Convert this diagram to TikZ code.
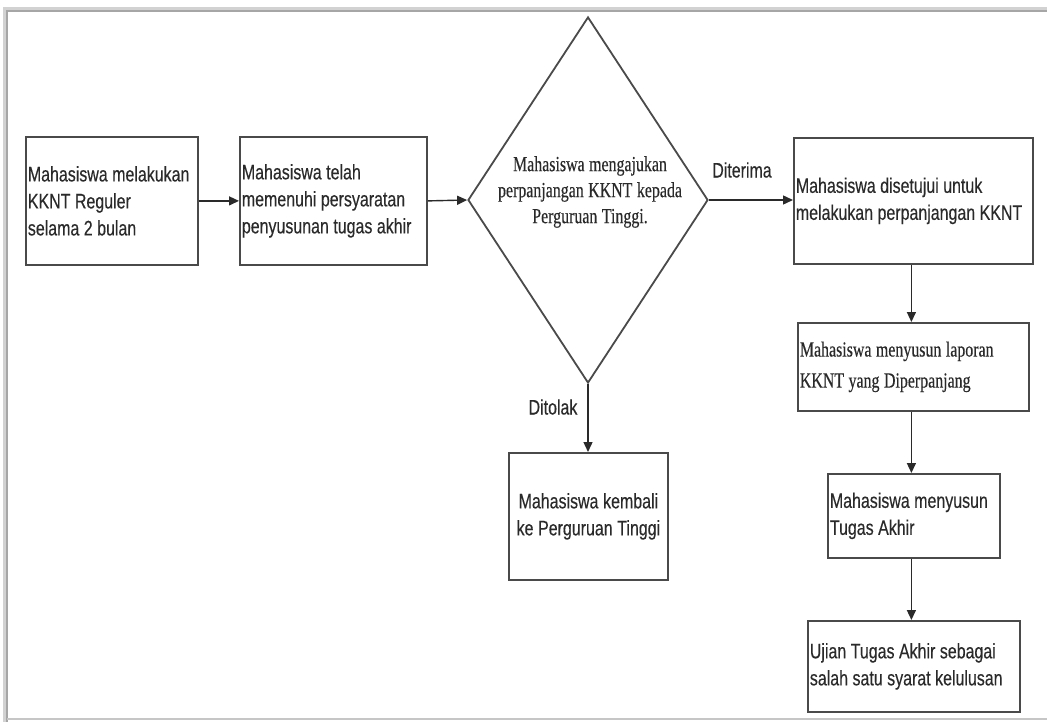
\documentclass[tikz,border=0pt]{standalone}
\usepackage{fontspec}
\usetikzlibrary{shapes.geometric,arrows.meta}
\newfontfamily\flowsans[FakeStretch=0.76,FakeBold=0.3]{Liberation Sans}
\newfontfamily\flowserif[FakeStretch=0.74,FakeBold=0.3]{Liberation Serif}
\definecolor{ink}{HTML}{2A2A2A}
\definecolor{edge}{HTML}{4A4A4A}
\newcommand\tightspace{\spaceskip=4.5pt plus 1pt minus 1pt\relax}
\tikzset{
  x=1pt, y=-1pt,
  proc/.style={draw=edge, line width=1.8pt, rectangle, inner sep=2pt, anchor=north west,
               align=left, text=ink, font=\flowsans\fontsize{21}{27}\selectfont,
               execute at begin node=\tightspace},
  procserif/.style={proc, font=\flowserif\fontsize{21.5}{31}\selectfont},
  flow/.style={draw=ink, line width=1.4pt, -{Triangle[length=10pt,width=9pt]}},
  lbl/.style={text=ink, font=\flowsans\fontsize{21}{27}\selectfont, inner sep=0pt},
}
\begin{document}
\begin{tikzpicture}
\useasboundingbox (0,0) rectangle (1047,722);
% page frame with soft shadow
\fill[white] (0,0) rectangle (1047,722);
\draw[line width=5pt, gray!35] (5,722) -- (5,10) -- (1047,10);
\draw[line width=2pt, gray!70] (7,722) -- (7,11) -- (1047,11);
\draw[line width=1.5pt, gray!45] (7,719) -- (1047,719);

% process boxes
\node[proc, minimum width=172pt, minimum height=128pt, text width=168pt] (b1) at (25,136)
  {Mahasiswa melakukan\\KKNT Reguler\\selama 2 bulan};
\node[proc, minimum width=187pt, minimum height=128pt, text width=183pt] (b2) at (239,136)
  {Mahasiswa telah\\memenuhi persyaratan\\penyusunan tugas akhir};
\node[draw=edge, line width=1.8pt, diamond, minimum width=240pt, minimum height=366pt, inner sep=0pt] (dec) at (588,200) {};
\node[text=ink, align=center, font=\flowserif\fontsize{21.5}{26}\selectfont,
      execute at begin node=\tightspace] (dectext) at (590,192)
  {Mahasiswa mengajukan\\perpanjangan KKNT kepada\\Perguruan Tinggi.};
\node[proc, align=center, minimum width=159pt, minimum height=127pt, text width=155pt] (back) at (508,452)
  {Mahasiswa kembali\\ke Perguruan Tinggi};
\node[proc, minimum width=239pt, minimum height=126pt, text width=235pt] (ok) at (793,137)
  {Mahasiswa disetujui untuk\\melakukan perpanjangan KKNT};
\node[procserif, minimum width=231pt, minimum height=88pt, text width=227pt] (lap) at (797,322)
  {Mahasiswa menyusun laporan\\KKNT yang Diperpanjang};
\node[proc, minimum width=172pt, minimum height=84pt, text width=168pt] (ta) at (827,473)
  {Mahasiswa menyusun\\Tugas Akhir};
\node[proc, minimum width=212pt, minimum height=91pt, text width=208pt] (uji) at (807,620)
  {Ujian Tugas Akhir sebagai\\salah satu syarat kelulusan};

% connectors
\draw[flow] (b1.east) -- (b1.east -| b2.west);
\draw[flow] (b2.east) -- (dec.west);
\draw[flow] (dec.east) -- (dec.east -| ok.west);
\draw[flow] (dec.south) -- (dec.south |- back.north);
\draw[flow] (lap.north |- ok.south) ++(-2,0) coordinate (c1) -- (c1 |- lap.north);
\draw[flow] (c1 |- lap.south) -- (c1 |- ta.north);
\draw[flow] (c1 |- ta.south) -- (c1 |- uji.north);

% branch labels
\node[lbl] (yes) at (742,170) {Diterima};
\node[lbl] (no) at (553,407) {Ditolak};
\end{tikzpicture}
\end{document}
